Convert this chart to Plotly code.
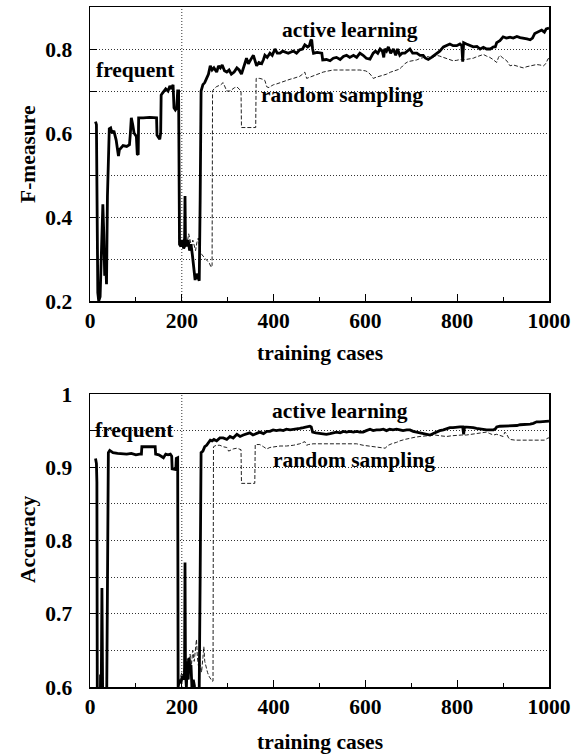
import plotly.graph_objects as go

# ---------------- data ----------------
# F-measure, active learning
f_active_t = [12, 14, 17, 19, 22, 25, 28, 30, 32, 34, 36, 38, 40, 42, 45, 48, 52, 57, 60, 62, 64, 68, 72, 80, 86, 88,
              90, 93, 96, 101, 103, 105, 106, 116, 130, 145, 146, 149, 152, 154, 155, 158, 161, 165, 170, 174, 178,
              181, 183, 186, 189, 191, 193, 194, 195, 198, 201, 204, 206, 207, 208, 211, 214, 217, 220, 223, 226,
              229, 232, 235, 238, 240, 242, 246, 250, 254, 258, 262, 266, 270, 276, 280, 284, 288, 293, 298, 303,
              308, 314, 320, 325, 330, 335, 341, 345, 348, 353, 356, 360, 363, 368, 374, 378, 381, 386, 392, 397,
              403, 408, 414, 420, 425, 432, 438, 443, 450, 457, 463, 468, 474, 478, 481, 483, 485, 487, 495, 505,
              507, 515, 523, 530, 537, 545, 552, 559, 566, 574, 581, 588, 595, 602, 610, 614, 617, 622, 627, 632,
              637, 640, 642, 646, 650, 655, 661, 666, 670, 675, 680, 686, 692, 697, 703, 712, 719, 726, 731, 737,
              744, 750, 755, 762, 770, 777, 784, 791, 799, 806, 810, 812, 814, 820, 827, 835, 843, 850, 857, 864,
              872, 879, 883, 886, 893, 900, 907, 915, 922, 930, 937, 945, 952, 959, 964, 969, 976, 984, 990, 994,
              1000]
f_active_v = [0.627, 0.62, 0.22, 0.20, 0.21, 0.34, 0.43, 0.36, 0.26, 0.30, 0.24, 0.45, 0.58, 0.61, 0.612, 0.60, 0.605,
              0.583, 0.56, 0.545, 0.56, 0.565, 0.57, 0.568, 0.572, 0.60, 0.636, 0.62, 0.60, 0.592, 0.55, 0.548,
              0.636, 0.636, 0.637, 0.636, 0.595, 0.59, 0.585, 0.60, 0.690, 0.695, 0.700, 0.705, 0.700, 0.712, 0.705,
              0.715, 0.66, 0.655, 0.66, 0.70, 0.70, 0.34, 0.335, 0.33, 0.345, 0.325, 0.33, 0.45, 0.34, 0.33, 0.345,
              0.32, 0.335, 0.31, 0.27, 0.25, 0.265, 0.255, 0.248, 0.44, 0.70, 0.715, 0.72, 0.73, 0.74, 0.76, 0.75,
              0.755, 0.745, 0.76, 0.755, 0.762, 0.748, 0.745, 0.75, 0.74, 0.745, 0.755, 0.75, 0.74, 0.76, 0.778,
              0.765, 0.772, 0.78, 0.785, 0.77, 0.76, 0.768, 0.765, 0.775, 0.785, 0.78, 0.79, 0.785, 0.80, 0.79, 0.79,
              0.795, 0.793, 0.79, 0.793, 0.795, 0.79, 0.798, 0.80, 0.81, 0.805, 0.808, 0.82, 0.822, 0.80, 0.79,
              0.792, 0.79, 0.774, 0.775, 0.772, 0.778, 0.78, 0.775, 0.782, 0.785, 0.78, 0.785, 0.78, 0.79, 0.785,
              0.778, 0.776, 0.785, 0.79, 0.795, 0.79, 0.80, 0.795, 0.78, 0.80, 0.795, 0.805, 0.79, 0.80, 0.785, 0.80,
              0.785, 0.79, 0.79, 0.795, 0.80, 0.79, 0.79, 0.785, 0.785, 0.778, 0.775, 0.78, 0.785, 0.79, 0.795,
              0.805, 0.808, 0.812, 0.808, 0.808, 0.812, 0.808, 0.77, 0.815, 0.812, 0.808, 0.805, 0.806, 0.80, 0.804,
              0.80, 0.80, 0.805, 0.805, 0.815, 0.82, 0.829, 0.826, 0.828, 0.826, 0.83, 0.827, 0.826, 0.824, 0.822,
              0.826, 0.837, 0.84, 0.845, 0.84, 0.848, 0.85]

# F-measure, random sampling (after it diverges from active learning)
f_random_t = [193, 194, 197, 200, 203, 206, 209, 212, 215, 218, 221, 224, 227, 230, 233, 236, 240, 244, 248, 252, 256,
              260, 264, 266, 267, 270, 275, 280, 285, 290, 294, 298, 305, 310, 315, 320, 325, 329, 330, 361, 362,
              370, 376, 381, 385, 390, 395, 400, 407, 414, 421, 428, 436, 443, 450, 457, 463, 468, 472, 479, 486,
              494, 501, 508, 516, 523, 530, 545, 559, 574, 588, 600, 606, 612, 617, 624, 632, 639, 646, 655, 662,
              668, 674, 679, 686, 693, 702, 712, 720, 730, 737, 744, 750, 755, 762, 770, 777, 784, 791, 799, 806,
              813, 820, 828, 835, 839, 845, 850, 857, 864, 871, 878, 883, 886, 890, 893, 898, 903, 908, 912, 915,
              922, 930, 937, 944, 952, 959, 966, 973, 980, 988, 993, 998, 1000]
f_random_v = [0.70, 0.34, 0.335, 0.33, 0.345, 0.35, 0.33, 0.34, 0.36, 0.34, 0.33, 0.345, 0.33, 0.32, 0.34, 0.35, 0.32,
              0.31, 0.305, 0.30, 0.295, 0.29, 0.28, 0.285, 0.70, 0.705, 0.71, 0.712, 0.715, 0.72, 0.71, 0.70, 0.70,
              0.705, 0.708, 0.71, 0.705, 0.70, 0.613, 0.613, 0.73, 0.73, 0.728, 0.725, 0.71, 0.708, 0.712, 0.715,
              0.717, 0.72, 0.722, 0.725, 0.728, 0.73, 0.733, 0.735, 0.74, 0.745, 0.73, 0.733, 0.735, 0.74, 0.742,
              0.745, 0.747, 0.748, 0.75, 0.75, 0.75, 0.751, 0.75, 0.748, 0.745, 0.738, 0.73, 0.733, 0.735, 0.738,
              0.74, 0.745, 0.748, 0.75, 0.752, 0.757, 0.765, 0.77, 0.772, 0.774, 0.778, 0.78, 0.782, 0.778, 0.783,
              0.785, 0.783, 0.78, 0.776, 0.774, 0.772, 0.773, 0.775, 0.774, 0.775, 0.777, 0.778, 0.78, 0.782, 0.785,
              0.787, 0.783, 0.78, 0.775, 0.77, 0.768, 0.78, 0.785, 0.78, 0.776, 0.772, 0.765, 0.76, 0.762, 0.76,
              0.758, 0.755, 0.758, 0.76, 0.762, 0.763, 0.762, 0.76, 0.765, 0.777, 0.777]

# Accuracy, active learning
acc_active_t = [12, 14, 15, 16, 22, 23, 24, 26, 28, 36, 38, 40, 43, 50, 60, 70, 80, 90, 100, 108, 112, 113, 142, 143,
                150, 155, 160, 165, 170, 175, 178, 179, 187, 188, 191, 192, 195, 198, 201, 204, 206, 207, 208, 210,
                212, 214, 216, 218, 220, 222, 225, 228, 232, 236, 238, 240, 242, 246, 250, 254, 258, 262, 266, 270,
                276, 283, 290, 298, 305, 312, 320, 327, 334, 341, 348, 355, 363, 370, 378, 385, 392, 399, 406, 414,
                421, 428, 436, 443, 450, 457, 465, 472, 479, 482, 485, 492, 500, 508, 515, 523, 530, 537, 545, 552,
                559, 566, 574, 581, 588, 595, 602, 610, 617, 624, 632, 639, 646, 653, 660, 668, 675, 682, 690, 697,
                704, 712, 719, 726, 733, 741, 748, 755, 762, 770, 777, 784, 791, 799, 806, 812, 814, 816, 820, 828,
                835, 842, 850, 857, 864, 871, 879, 884, 886, 893, 900, 908, 915, 922, 930, 937, 944, 952, 959, 966,
                973, 980, 988, 994, 1000]
acc_active_v = [0.912, 0.905, 0.88, 0.55, 0.55, 0.617, 0.55, 0.735, 0.55, 0.55, 0.80, 0.92, 0.923, 0.92, 0.919, 0.918,
                0.918, 0.919, 0.917, 0.918, 0.918, 0.928, 0.928, 0.918, 0.917, 0.915, 0.913, 0.918, 0.917, 0.918,
                0.915, 0.898, 0.897, 0.912, 0.913, 0.60, 0.61, 0.605, 0.615, 0.61, 0.62, 0.77, 0.62, 0.60, 0.635,
                0.61, 0.64, 0.62, 0.63, 0.60, 0.61, 0.60, 0.59, 0.59, 0.60, 0.75, 0.92, 0.922, 0.928, 0.93, 0.934,
                0.937, 0.936, 0.938, 0.936, 0.94, 0.94, 0.938, 0.942, 0.94, 0.945, 0.942, 0.944, 0.946, 0.947, 0.944,
                0.946, 0.948, 0.946, 0.949, 0.949, 0.951, 0.95, 0.951, 0.95, 0.952, 0.951, 0.952, 0.952, 0.953, 0.954,
                0.955, 0.956, 0.955, 0.948, 0.947, 0.946, 0.946, 0.945, 0.946, 0.947, 0.948, 0.947, 0.949, 0.948,
                0.949, 0.948, 0.949, 0.948, 0.948, 0.95, 0.952, 0.95, 0.951, 0.951, 0.952, 0.95, 0.952, 0.951, 0.952,
                0.951, 0.95, 0.951, 0.951, 0.949, 0.948, 0.947, 0.946, 0.945, 0.944, 0.946, 0.948, 0.95, 0.951, 0.953,
                0.954, 0.954, 0.955, 0.955, 0.955, 0.945, 0.955, 0.955, 0.954, 0.954, 0.953, 0.952, 0.952, 0.951,
                0.951, 0.951, 0.953, 0.955, 0.956, 0.956, 0.956, 0.956, 0.957, 0.957, 0.958, 0.958, 0.958, 0.959,
                0.96, 0.962, 0.962, 0.962, 0.963, 0.963]

# Accuracy, random sampling (after it diverges from active learning)
acc_random_t = [191, 192, 196, 200, 203, 206, 209, 212, 215, 218, 221, 224, 227, 230, 232, 234, 237, 240, 243, 246, 248,
                250, 253, 256, 259, 262, 266, 268, 269, 275, 283, 290, 298, 302, 305, 312, 320, 325, 329, 330, 359,
                360, 370, 378, 385, 392, 400, 407, 414, 428, 443, 457, 464, 468, 472, 476, 486, 494, 508, 523, 537,
                552, 566, 581, 595, 610, 622, 632, 643, 650, 657, 668, 675, 686, 697, 708, 719, 730, 741, 752, 762,
                777, 788, 799, 810, 820, 831, 842, 853, 864, 871, 879, 886, 893, 900, 904, 908, 912, 915, 926, 937,
                948, 959, 970, 981, 990, 998, 1000]
acc_random_v = [0.913, 0.60, 0.61, 0.62, 0.615, 0.63, 0.60, 0.64, 0.625, 0.645, 0.63, 0.65, 0.635, 0.66, 0.665, 0.64,
                0.625, 0.63, 0.62, 0.64, 0.655, 0.635, 0.625, 0.62, 0.615, 0.612, 0.608, 0.608, 0.928, 0.93, 0.93,
                0.928, 0.927, 0.922, 0.923, 0.925, 0.926, 0.925, 0.924, 0.878, 0.878, 0.931, 0.931, 0.928, 0.925,
                0.927, 0.928, 0.929, 0.929, 0.929, 0.93, 0.932, 0.934, 0.935, 0.93, 0.931, 0.932, 0.932, 0.933, 0.933,
                0.933, 0.933, 0.933, 0.932, 0.93, 0.929, 0.928, 0.927, 0.926, 0.93, 0.932, 0.934, 0.936, 0.938, 0.94,
                0.941, 0.942, 0.943, 0.944, 0.944, 0.943, 0.942, 0.943, 0.944, 0.944, 0.944, 0.945, 0.946, 0.947,
                0.948, 0.946, 0.944, 0.945, 0.944, 0.942, 0.948, 0.945, 0.94, 0.938, 0.937, 0.937, 0.936, 0.936,
                0.936, 0.936, 0.937, 0.94, 0.94]

x_tick_vals = [0, 200, 400, 600, 800, 1000]
x_tick_text = ["0", "200", "400", "600", "800", "1000"]
f_tick_vals = [0.2, 0.3, 0.4, 0.5, 0.6, 0.7, 0.8, 0.9]
f_tick_text = ["0.2", "", "0.4", "", "0.6", "", "0.8", ""]
acc_tick_vals = [0.6, 0.65, 0.7, 0.75, 0.8, 0.85, 0.9, 0.95, 1.0]
acc_tick_text = ["0.6", "", "0.7", "", "0.8", "", "0.9", "", "1"]

# ---------------- figure ----------------
W, H = 580, 756
FONT = "Liberation Serif"
FS = 21.5

fig = go.Figure()

active_line = dict(color="black", width=2.8)
random_line = dict(color="#222", width=1, dash="4px,2px")

fig.add_trace(go.Scatter(x=f_random_t, y=f_random_v, mode="lines", line=random_line,
                         xaxis="x", yaxis="y", showlegend=False))
fig.add_trace(go.Scatter(x=f_active_t, y=f_active_v, mode="lines", line=active_line,
                         xaxis="x", yaxis="y", showlegend=False))
fig.add_trace(go.Scatter(x=acc_random_t, y=acc_random_v, mode="lines", line=random_line,
                         xaxis="x2", yaxis="y2", showlegend=False))
fig.add_trace(go.Scatter(x=acc_active_t, y=acc_active_v, mode="lines", line=active_line,
                         xaxis="x2", yaxis="y2", showlegend=False))

x_dom = [90 / W, 549 / W]
top_dom = [1 - 301 / H, 1 - 7 / H]
bot_dom = [1 - 687 / H, 1 - 394 / H]

tickfont = dict(family=FONT, size=FS, color="black", weight="bold")

def xaxis_cfg(anchor):
    return dict(domain=x_dom, anchor=anchor, range=[0, 1000], tickmode="array",
                tickvals=x_tick_vals, ticktext=x_tick_text, ticks="inside", ticklen=7,
                tickcolor="black", tickwidth=1, showgrid=False, zeroline=False,
                showline=True, linecolor="black", linewidth=1.5, mirror=True,
                tickfont=tickfont, ticklabelstandoff=0, automargin=False,
                minor=dict(tickmode="array", tickvals=[100, 300, 500, 700, 900],
                           ticks="inside", ticklen=4, tickcolor="black", tickwidth=1, showgrid=False))

def yaxis_cfg(anchor, dom, rng, vals, text):
    return dict(domain=dom, anchor=anchor, range=rng, tickmode="array", tickvals=vals,
                ticktext=text, ticks="inside", ticklen=7, tickcolor="black", tickwidth=1,
                showgrid=True, gridcolor="#333", gridwidth=1, griddash="1px,2px",
                zeroline=False, showline=True, linecolor="black", linewidth=1.5,
                mirror=True, tickfont=tickfont, ticklabelstandoff=12, automargin=False)

fig.update_layout(
    template="none",
    width=W, height=H,
    margin=dict(l=0, r=0, t=0, b=0, pad=0, autoexpand=False),
    paper_bgcolor="white", plot_bgcolor="white",
    xaxis=xaxis_cfg("y"),
    yaxis=yaxis_cfg("x", top_dom, [0.2, 0.9], f_tick_vals, f_tick_text),
    xaxis2=xaxis_cfg("y2"),
    yaxis2=yaxis_cfg("x2", bot_dom, [0.6, 1.0], acc_tick_vals, acc_tick_text),
    showlegend=False,
)

# vertical dotted marker at 200 training cases
for xr, yr in (("x", "y domain"), ("x2", "y2 domain")):
    fig.add_shape(type="line", x0=200, x1=200, y0=0, y1=1, xref=xr, yref=yr,
                  line=dict(color="#333", width=1, dash="1px,2px"), layer="below")

afont = dict(family=FONT, size=FS, color="black", weight="bold")

def note(text, x, y, xr, yr, angle=0):
    fig.add_annotation(text=text, x=x, y=y, xref=xr, yref=yr, showarrow=False,
                       font=afont, xanchor="center", yanchor="middle", textangle=angle)

# in-plot labels
note("active learning", 566, 0.846, "x", "y")
note("random sampling", 548, 0.690, "x", "y")
note("frequent", 99, 0.750, "x", "y")
note("active learning", 545, 0.9765, "x2", "y2")
note("random sampling", 575, 0.9105, "x2", "y2")
note("frequent", 98, 0.9514, "x2", "y2")

# axis titles
note("F-measure", 28 / W, 1 - 154 / H, "paper", "paper", -90)
note("Accuracy", 28 / W, 1 - 540 / H, "paper", "paper", -90)
note("training cases", 319.5 / W, 1 - 353 / H, "paper", "paper")
note("training cases", 319.5 / W, 1 - 742 / H, "paper", "paper")

fig.write_html("out.html", config={"displayModeBar": False, "staticPlot": True},
               post_script="document.body.style.margin='0';document.body.style.overflow='hidden';")
